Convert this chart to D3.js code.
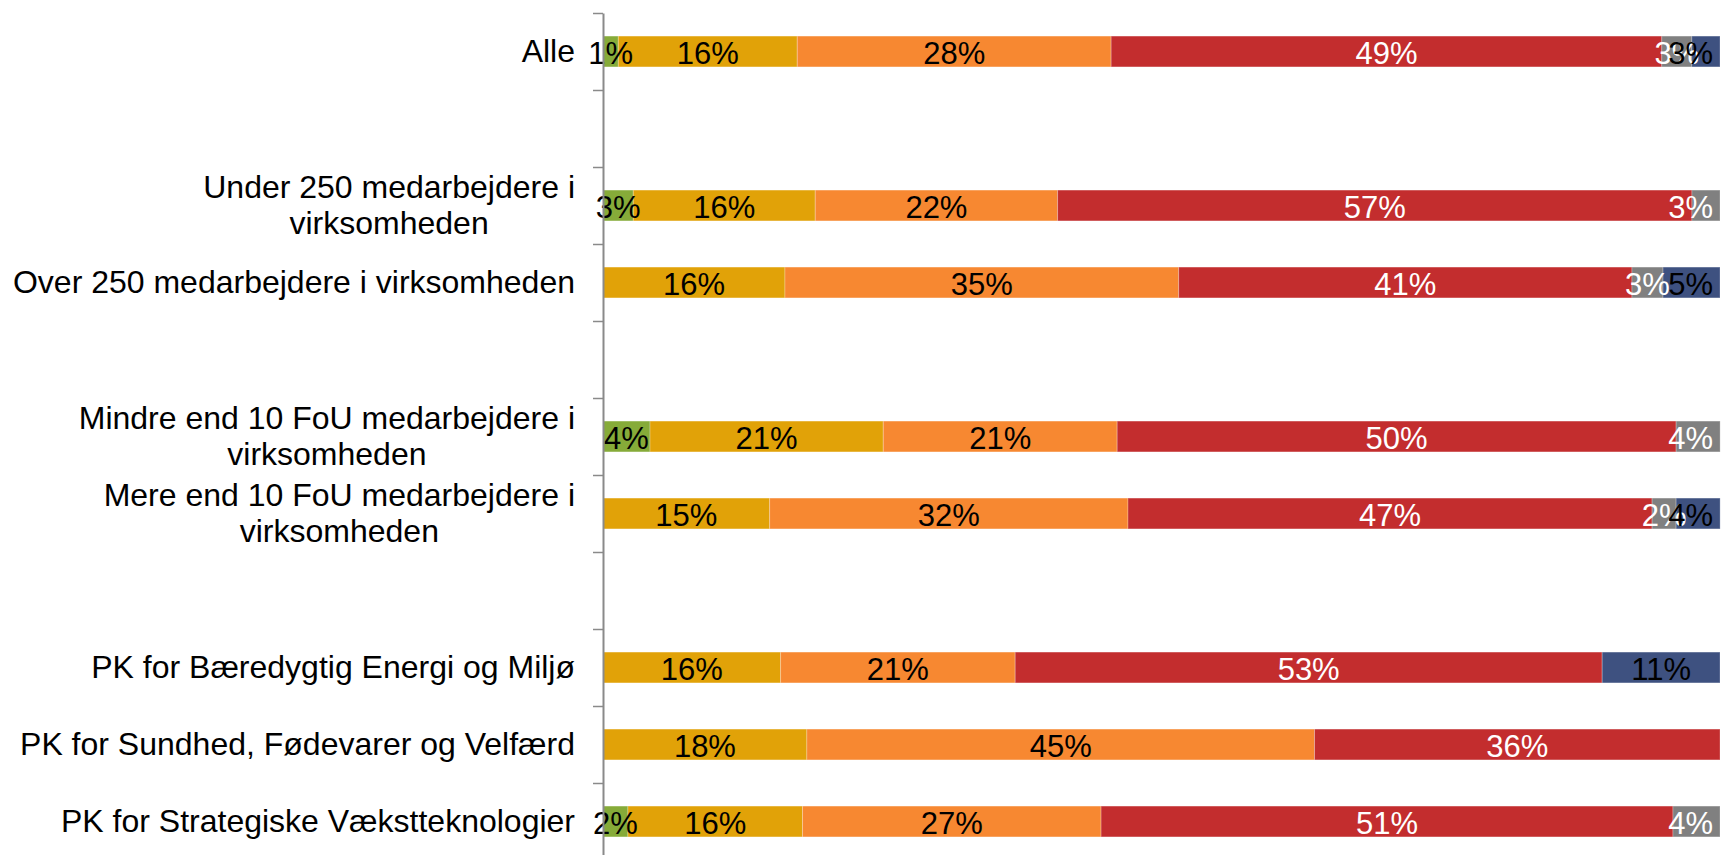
<!DOCTYPE html>
<html>
<meta charset="utf-8">
<script src="https://cdn.jsdelivr.net/npm/d3@7/dist/d3.min.js"></script>
<title>Stacked shares</title>
<style>
  body { margin: 0; background: #fff; }
  text { font-family: "Liberation Sans", Arial, Helvetica, sans-serif; }
</style>
<body>
<script type="text/javascript">

var size = { width : 1721, height : 855 };

// categories, top to bottom ("" = empty spacer row, "\n" = line break)
var categories = [
    "Alle",
    "",
    "Under 250 medarbejdere i\nvirksomheden",
    "Over 250 medarbejdere i virksomheden",
    "",
    "Mindre end 10 FoU medarbejdere i\nvirksomheden",
    "Mere end 10 FoU medarbejdere i\nvirksomheden",
    "",
    "PK for Bæredygtig Energi og Miljø",
    "PK for Sundhed, Fødevarer og Velfærd",
    "PK for Strategiske Vækstteknologier"
];

// shares in percent, one array per series (same order as categories)
var green  = [1.37, 0, 2.71, 0,     0, 4.21,  0,     0, 0,     0,     2.23];
var yellow = [16.02, 0, 16.29, 16.29, 0, 20.88, 14.92, 0, 15.9,  18.25, 15.63];
var orange = [28.1, 0, 21.70, 35.25, 0, 20.94, 32.08, 0, 21.0,  45.45, 26.73];
var red    = [49.3, 0, 56.79, 40.58, 0, 50.04, 46.92, 0, 52.55, 36.3,  51.2];
var grey   = [2.69, 0, 2.51,  2.78,  0, 3.94,  2.15,  0, 0,     0,     4.21];
var blue   = [2.52, 0, 0,     5.10,  0, 0,     3.94,  0, 10.55, 0,     0];

var keys = ["green", "yellow", "orange", "red", "grey", "blue"];
var colors = {
    green : "#86ab39",
    yellow : "#e1a208",
    orange : "#f78831",
    red : "#c32d2e",
    grey : "#808080",
    blue : "#3e5180"
};
var labelColors = {
    green : "#000", yellow : "#000", orange : "#000",
    red : "#fff", grey : "#fff", blue : "#000"
};
var seriesValues = { green: green, yellow: yellow, orange: orange, red: red, grey: grey, blue: blue };

var rows = categories.map(function(c, i) {
    var r = { idx : i, name : c };
    keys.forEach(function(k) { r[k] = seriesValues[k][i]; });
    return r;
});

var axisX = 603;
var top0 = 13, step = 77;
var fontSize = 31;
var catFontSize = 32;

var xScale = d3.scaleLinear()
    .domain([0, 100])
    .range([axisX, 1720]);
var yScale = d3.scaleBand()
    .domain(d3.range(categories.length))
    .range([top0, top0 + step * categories.length])
    .paddingInner(0.6)
    .paddingOuter(0.3);
var tickScale = d3.scaleLinear()
    .domain([0, categories.length])
    .range([top0, top0 + step * categories.length]);

var svg = d3.select("body")
    .append("svg")
    .attr("width", size.width)
    .attr("height", size.height);

var stacked = d3.stack().keys(keys)(rows);

var layer = svg.selectAll(".layer")
    .data(stacked)
    .enter()
    .append("g")
    .attr("class", "layer")
    .attr("fill", function(d) { return colors[d.key]; });

layer.selectAll("rect")
    .data(function(d) { return d.filter(function(p) { return p[1] - p[0] > 0; }); })
    .enter()
    .append("rect")
    .attr("x", function(d) { return xScale(d[0]); })
    .attr("y", function(d) { return yScale(d.data.idx); })
    .attr("width", function(d) { return xScale(d[1]) - xScale(d[0]); })
    .attr("height", yScale.bandwidth())
    .attr("stroke", "#fff")
    .attr("stroke-opacity", 0.25)
    .attr("stroke-width", 1);

// value labels (kept inside the right edge like the original)
var labelRight = 1713;
stacked.forEach(function(s) {
    s.forEach(function(p) {
        var v = p[1] - p[0];
        if (v <= 0) return;
        var cx = (xScale(p[0]) + xScale(p[1])) / 2;
        var t = svg.append("text")
            .attr("text-anchor", "middle")
            .attr("y", yScale(p.data.idx) + yScale.bandwidth() / 2 + 12)
            .style("font-size", fontSize + "px")
            .attr("fill", labelColors[s.key])
            .text(Math.round(v) + "%");
        var w = t.node().getComputedTextLength();
        if (cx + w / 2 > labelRight) cx = labelRight - w / 2;
        t.attr("x", cx);
    });
});

// axis with ticks between the categories
var axis = svg.append("g")
    .attr("class", "axisY")
    .attr("transform", "translate(" + axisX + ",0)")
    .call(d3.axisLeft(tickScale)
        .tickValues(d3.range(categories.length + 1))
        .tickSize(10)
        .tickSizeOuter(0)
        .tickFormat(""));
axis.select(".domain").attr("stroke", "#8a8a8a").attr("stroke-width", 2);
axis.selectAll(".tick line").attr("stroke", "#8a8a8a").attr("stroke-width", 1.5);

// category labels
var lineH = 36;
rows.forEach(function(r) {
    if (!r.name) return;
    var lines = r.name.split("\n");
    var cy = yScale(r.idx) + yScale.bandwidth() / 2;
    var g = svg.append("text")
        .style("font-size", catFontSize + "px")
        .attr("fill", "#000");
    var first = cy - (lines.length - 1) * lineH / 2 + 10.5;
    var spans = lines.map(function(l, i) {
        return g.append("tspan")
            .attr("y", first + i * lineH)
            .attr("text-anchor", "middle")
            .text(l);
    });
    var w = d3.max(spans, function(s) { return s.node().getComputedTextLength(); });
    var cxl = 575 - w / 2;
    spans.forEach(function(s) { s.attr("x", cxl); });
});

</script>
</body>
</html>
